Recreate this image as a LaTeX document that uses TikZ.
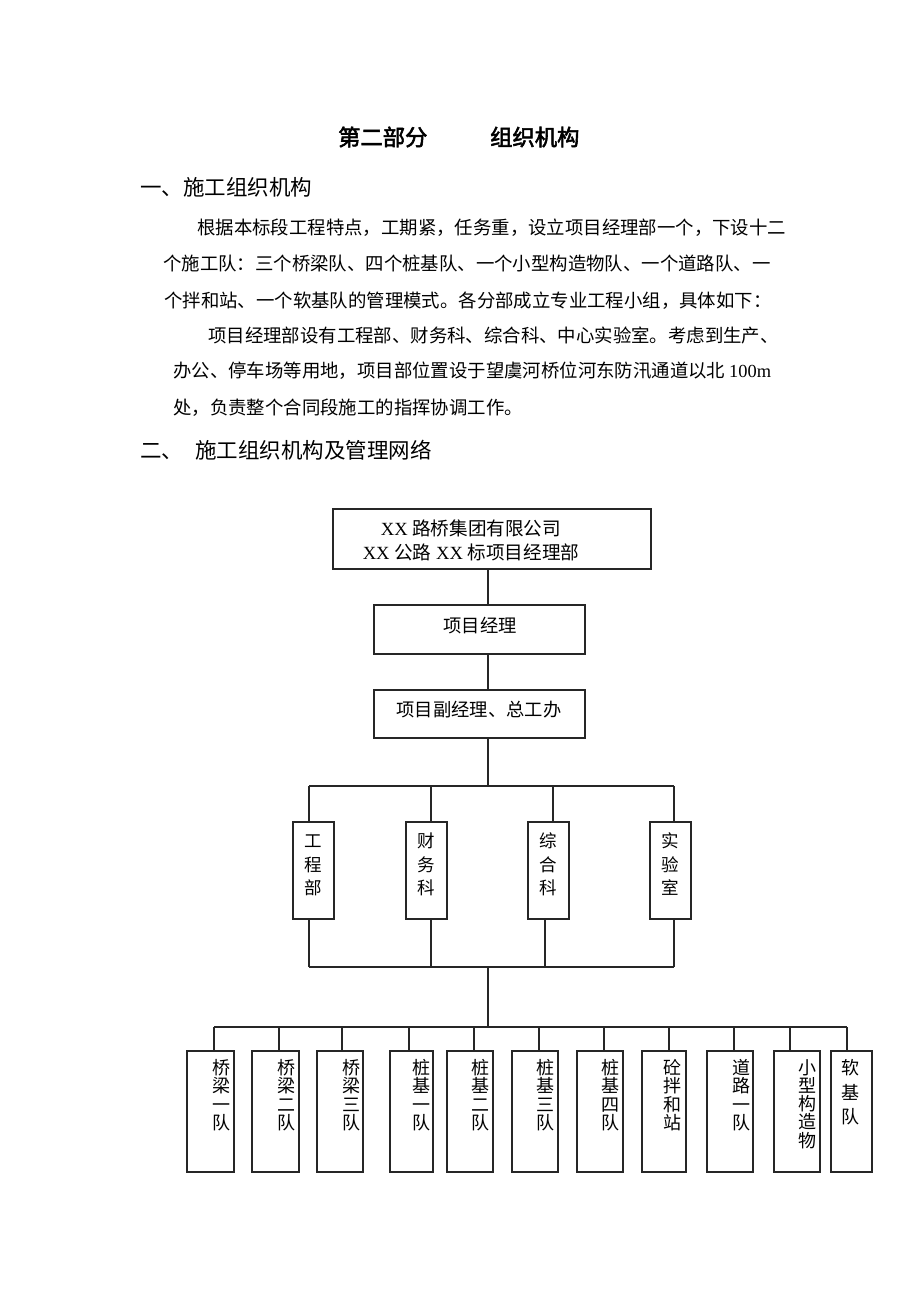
\documentclass[tikz,border=0pt]{standalone}
\usepackage{fontspec}
\setmainfont{Liberation Serif}
\newfontfamily\cjk{Noto Sans CJK SC}
\newfontfamily\cjkb{Noto Sans CJK SC}[FakeBold=2.5]
\XeTeXlinebreaklocale "zh"
\XeTeXlinebreakskip=0pt plus 3pt minus 1pt
\newcommand\lat[1]{{\rmfamily #1}}
\newcommand\vchars[6]{%
  \foreach \c [count=\i from 0] in {#6}
    \node[vt, font=\cjk\fontsize{#5}{#5}\selectfont] (#1-\i) at (#2, {#3+\i*#4}) {\c};}
\tikzset{
  box/.style={draw=black!85, line width=1.3pt, rectangle, inner sep=0pt, fill=none},
  conn/.style={draw=black!85, line width=1.3pt},
  vt/.style={inner sep=0pt, anchor=base},
  para/.style={inner sep=0pt, anchor=base west, font=\cjk\fontsize{18.4}{18.4}\selectfont},
  boxtxt/.style={inner sep=0pt, anchor=base, font=\cjk\fontsize{18.6}{18.6}\selectfont},
}
\begin{document}
\begin{tikzpicture}[x=1pt,y=-1pt]
\fill[white] (0,0) rectangle (920,1302);
\useasboundingbox (0,0) rectangle (920,1302);

% title
\node[inner sep=0pt, anchor=base west, font=\cjkb\fontsize{22.3}{22.3}\selectfont] (t1) at (338,145.5) {第二部分};
\node[inner sep=0pt, anchor=base west, font=\cjkb\fontsize{22.3}{22.3}\selectfont] (t2) at (490,145.5) {组织机构};

% heading 1
\node[inner sep=0pt, anchor=base west, font=\cjk\fontsize{21.5}{21.5}\selectfont] (h1) at (140,195) {一、施工组织机构};

% paragraph
\node[para] (p1) at (197,234) {\hbox to 591pt{根据本标段工程特点，工期紧，任务重，设立项目经理部一个，下设十二}};
\node[para] (p2) at (163,270) {\hbox to 617pt{个施工队：三个桥梁队、四个桩基队、一个小型构造物队、一个道路队、一}};
\node[para] (p3) at (164,307) {\hbox to 608pt{个拌和站、一个软基队的管理模式。各分部成立专业工程小组，具体如下：}};
\node[para] (p4) at (208,342) {\hbox to 565pt{项目经理部设有工程部、财务科、综合科、中心实验室。考虑到生产、}};
\node[para] (p5) at (173,377) {\hbox to 602pt{办公、停车场等用地，项目部位置设于望虞河桥位河东防汛通道以北\lat{\fontsize{18.4}{18.4}\selectfont\kern4pt 100m}}};
\node[para] (p6) at (173,414) {\hbox to 343pt{处，负责整个合同段施工的指挥协调工作。}};

% heading 2
\node[inner sep=0pt, anchor=base west, font=\cjk\fontsize{21.5}{21.5}\selectfont] (h2a) at (140,458) {二、};
\node[inner sep=0pt, anchor=base west, font=\cjk\fontsize{21.5}{21.5}\selectfont] (h2b) at (195,458) {施工组织机构及管理网络};

% top boxes
\node[box, minimum width=318pt, minimum height=60pt] (top) at (492,539) {};
\node[boxtxt] (topl1) at (471,535) {\lat{\fontsize{18.6}{18.6}\selectfont XX }路桥集团有限公司};
\node[boxtxt] (topl2) at (471,559) {\lat{\fontsize{18.6}{18.6}\selectfont XX }公路\lat{\fontsize{18.6}{18.6}\selectfont\ XX }标项目经理部};

\node[box, minimum width=211pt, minimum height=49pt] (pm) at (479.5,629.5) {};
\node[boxtxt, font=\cjk\fontsize{18.3}{18.3}\selectfont] (pmt) at (480,632) {项目经理};

\node[box, minimum width=211pt, minimum height=48pt] (dpm) at (479.5,714) {};
\node[boxtxt, font=\cjk\fontsize{18.3}{18.3}\selectfont] (dpmt) at (479,716) {项目副经理、总工办};

\draw[conn] (top.south -| 488,0) -- (pm.north -| 488,0);
\draw[conn] (pm.south -| 488,0) -- (dpm.north -| 488,0);

% middle departments
\node[box, minimum width=41pt, minimum height=97pt] (d1) at (313.5,870.5) {};
\node[box, minimum width=41pt, minimum height=97pt] (d2) at (426.5,870.5) {};
\node[box, minimum width=41pt, minimum height=97pt] (d3) at (548.5,870.5) {};
\node[box, minimum width=41pt, minimum height=97pt] (d4) at (670.5,870.5) {};
\vchars{d1t}{313}{847.5}{23.5}{17.5}{工,程,部}
\vchars{d2t}{426}{847.5}{23.5}{17.5}{财,务,科}
\vchars{d3t}{548}{847.5}{23.5}{17.5}{综,合,科}
\vchars{d4t}{670}{847.5}{23.5}{17.5}{实,验,室}

\coordinate (ua) at (309,786);
\coordinate (ub) at (431,786);
\coordinate (uc) at (553,786);
\coordinate (ud) at (674,786);
\coordinate (um) at (488,786);
\coordinate (la) at (309,967);
\coordinate (lb) at (431,967);
\coordinate (lc) at (545,967);
\coordinate (ld) at (674,967);
\coordinate (lm) at (488,967);

\draw[conn] (dpm.south -| um) -- (um);
\draw[conn] (ua) -- (ud);
\draw[conn] (ua) -- (d1.north -| ua);
\draw[conn] (ub) -- (d2.north -| ub);
\draw[conn] (uc) -- (d3.north -| uc);
\draw[conn] (ud) -- (d4.north -| ud);
\draw[conn] (d1.south -| la) -- (la);
\draw[conn] (d2.south -| lb) -- (lb);
\draw[conn] (d3.south -| lc) -- (lc);
\draw[conn] (d4.south -| ld) -- (ld);
\draw[conn] (la) -- (ld);

% bottom teams
\coordinate (bm) at (488,1027);
\coordinate (bl) at (214,1027);
\coordinate (br) at (847,1027);
\draw[conn] (lm) -- (bm);
\draw[conn] (bl) -- (br);

\foreach \nm/\cx/\w/\jx in {q1/210.5/47/214, q2/275.5/47/279, q3/340/46/342, z1/411.5/43/409, z2/470/46/474, z3/535/46/539, z4/600/46/604, hn/664/44/669, dl/730/46/734, xx/797/46/790, rj/851.5/41/847}{
  \node[box, minimum width=\w pt, minimum height=121pt] (\nm) at (\cx,1111.5) {};
  \coordinate (\nm-j) at (\jx,1027);
  \draw[conn] (\nm-j) -- (\nm.north -| \nm-j);
}
\vchars{q1t}{221}{1074}{18.6}{18}{桥,梁,一,队}
\vchars{q2t}{286}{1074}{18.6}{18}{桥,梁,二,队}
\vchars{q3t}{351}{1074}{18.6}{18}{桥,梁,三,队}
\vchars{z1t}{421}{1074}{18.6}{18}{桩,基,一,队}
\vchars{z2t}{480}{1074}{18.6}{18}{桩,基,二,队}
\vchars{z3t}{545}{1074}{18.6}{18}{桩,基,三,队}
\vchars{z4t}{610}{1074}{18.6}{18}{桩,基,四,队}
\vchars{hnt}{672}{1074}{18.6}{18}{砼,拌,和,站}
\vchars{dlt}{741}{1074}{18.6}{18}{道,路,一,队}
\vchars{xxt}{807}{1074}{18.3}{18}{小,型,构,造,物}
\vchars{rjt}{850}{1074.5}{24.5}{18}{软,基,队}
\end{tikzpicture}
\end{document}
